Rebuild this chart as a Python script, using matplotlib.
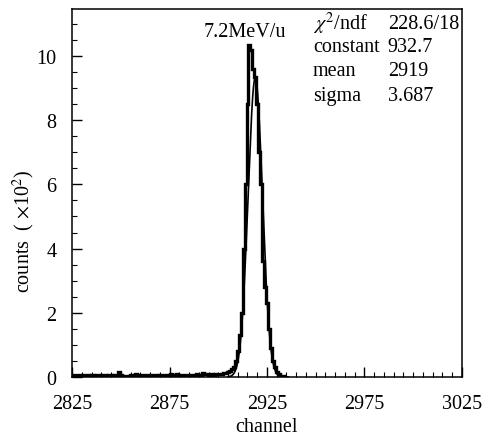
import numpy as np
import matplotlib
matplotlib.use("Agg")
import matplotlib.pyplot as plt

plt.rcParams['font.family'] = ['Liberation Serif', 'DejaVu Serif']
plt.rcParams['mathtext.fontset'] = 'stix'

# histogram contents (x10^2 counts), one bin per channel starting at 2825
first_channel = 2825
counts = [
    0.06, 0.05, 0.07, 0.05, 0.06, 0.04, 0.05, 0.06, 0.05, 0.04,
    0.05, 0.06, 0.04, 0.05, 0.05, 0.04, 0.06, 0.05, 0.04, 0.05,
    0.05, 0.04, 0.06, 0.05, 0.16, 0.05, 0.03, 0.04, 0.03, 0.04,
    0.05, 0.06, 0.07, 0.08, 0.06, 0.07, 0.06, 0.05, 0.06, 0.07,
    0.06, 0.05, 0.06, 0.05, 0.04, 0.05, 0.06, 0.05, 0.06, 0.07,
    0.06, 0.08, 0.07, 0.06, 0.08, 0.07, 0.06, 0.05, 0.06, 0.05,
    0.06, 0.05, 0.06, 0.07, 0.08, 0.06, 0.07, 0.12, 0.10, 0.08,
    0.06, 0.07, 0.08, 0.07, 0.08, 0.09, 0.10, 0.10, 0.12, 0.12,
    0.15, 0.20, 0.25, 0.30, 0.50,                     # 2905-2909
    0.80, 1.30, 2.00, 4.00, 6.00, 8.50, 10.34, 10.20,  # 2910-2917
    9.60, 9.35, 8.50, 7.00, 6.00, 3.60, 2.80, 2.30,    # 2918-2925
    1.50, 0.90, 0.50, 0.30, 0.15, 0.08, 0.04, 0.02,    # 2926-2933
    0.0,
]

# gaussian fit results shown in the stats box
fit_constant = 932.7
fit_mean = 2919
fit_sigma = 3.687
fit_range = (2905, 2936)

stat_names = [r"$\chi^2$/ndf", "constant", "mean", "sigma"]
stat_values = ["228.6/18", "932.7", "2919", "3.687"]

xticks_major = [2825, 2875, 2925, 2975, 3025]

fs = 14.5

fig = plt.figure(figsize=(4.85, 4.39), dpi=100)
ax = fig.add_axes([0.1485, 0.139, 0.804, 0.838])

edges = np.arange(len(counts) + 1) + first_channel - 0.5
ax.stairs(counts, edges, color='black', linewidth=2.4)

xf = np.linspace(fit_range[0], fit_range[1], 300)
yf = fit_constant / 100.0 * np.exp(-0.5 * ((xf - fit_mean) / fit_sigma) ** 2)
ax.plot(xf, yf, color='black', linewidth=1.2)

ax.set_xlim(2825, 3025)
ax.set_ylim(0, 11.46)
ax.set_xticks(xticks_major)
ax.set_xticks(np.arange(2825, 3026, 5), minor=True)
ax.set_yticks([0, 2, 4, 6, 8, 10])
ax.set_yticks(np.arange(0, 11.4, 0.5), minor=True)
ax.tick_params(direction='in', length=7, width=1, labelsize=fs)
ax.tick_params(axis='x', pad=12)
ax.tick_params(axis='y', pad=11)
ax.tick_params(which='minor', direction='in', length=3.5, width=0.8)
for s in ax.spines.values():
    s.set_linewidth(1.1)

ax.set_xlabel("channel", fontsize=fs, labelpad=3)
ax.set_ylabel(r"counts  ( $\times$10$^2$)", fontsize=fs)
ax.yaxis.set_label_coords(-0.09, 0.40)

ax.text(0.444, 0.94, "7.2MeV/u", transform=ax.transAxes, ha='center',
        va='center', fontsize=fs)
ys = [0.962, 0.897, 0.834, 0.766]
for name, val, y in zip(stat_names, stat_values, ys):
    ax.text(0.618, y, name, transform=ax.transAxes, ha='left', va='center', fontsize=fs)
    ax.text(0.81, y, val, transform=ax.transAxes, ha='left', va='center', fontsize=fs)

fig.savefig("out.png", dpi=100)
